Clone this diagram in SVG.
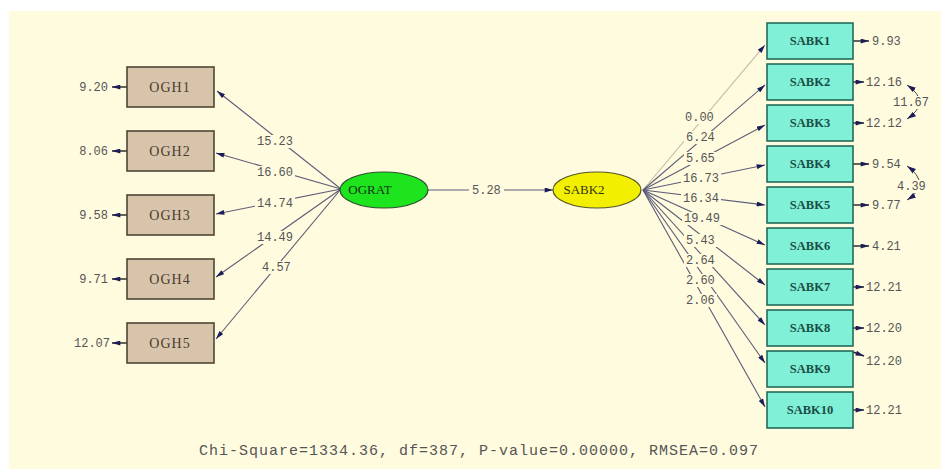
<svg xmlns="http://www.w3.org/2000/svg" width="949" height="476" viewBox="0 0 949 476">
  <style>
    .bg { fill: #fffbdf; }
    .ogh { fill: #d8c4ab; stroke: #4f4535; stroke-width: 1.6; }
    .sabk { fill: #80f0d6; stroke: #236b5c; stroke-width: 1.6; }
    .nlab { font-family: "Liberation Serif", serif; font-size: 13px; text-anchor: middle; }
    .ogh-t { fill: #4a3c30; font-size: 14px; letter-spacing: 1px; }
    .sabk-t { fill: #1b4d46; font-weight: bold; font-size: 12.5px; }
    .num { font-family: "Liberation Mono", monospace; font-size: 12px; fill: #555; }
    .gap { fill: #fffbdf; }
    .path { stroke: #5c5c78; stroke-width: 1.1; fill: none; marker-end: url(#ah); }
    .faint { stroke: #c2b9a8; }
    .err { stroke: #222; stroke-width: 1.4; fill: none; marker-end: url(#ah); }
    .cov { stroke: #444; stroke-width: 1; fill: none; marker-start: url(#ah2); marker-end: url(#ah2); }
  </style>
  <defs>
    <marker id="ah" viewBox="0 0 10 6" refX="10" refY="3" markerWidth="9" markerHeight="5" orient="auto" markerUnits="userSpaceOnUse">
      <path d="M0,0 L10,3 L0,6 z" fill="#1c1c58"/>
    </marker>
    <marker id="ah2" viewBox="0 0 10 6" refX="10" refY="3" markerWidth="9" markerHeight="6" orient="auto-start-reverse" markerUnits="userSpaceOnUse">
      <path d="M0,0 L10,3 L0,6 z" fill="#1c1c58"/>
    </marker>
  </defs>

  <!-- canvas -->
  <rect x="0" y="0" width="949" height="476" fill="#ffffff"/>
  <rect class="bg" x="9" y="11" width="932" height="458"/>

  <!-- connectors -->
  <g id="connectors">
    <!-- OGRAT -> OGH loadings -->
    <line class="path" x1="341" y1="189" x2="217" y2="91"/>
    <line class="path" x1="341" y1="189" x2="216" y2="153"/>
    <line class="path" x1="341" y1="189" x2="216" y2="214"/>
    <line class="path" x1="341" y1="189" x2="216" y2="277"/>
    <line class="path" x1="341" y1="189" x2="216" y2="339"/>
    <!-- structural path -->
    <line class="path" x1="428" y1="190" x2="553" y2="190"/>
    <!-- SABK2 -> SABK loadings -->
    <line class="path faint" x1="643" y1="190" x2="765" y2="45"/>
    <line class="path" x1="643" y1="190" x2="765" y2="85"/>
    <line class="path" x1="643" y1="190" x2="765" y2="125"/>
    <line class="path" x1="643" y1="190" x2="765" y2="165"/>
    <line class="path" x1="643" y1="190" x2="765" y2="205"/>
    <line class="path" x1="643" y1="190" x2="765" y2="245"/>
    <line class="path" x1="643" y1="190" x2="765" y2="285"/>
    <line class="path" x1="643" y1="190" x2="765" y2="325"/>
    <line class="path" x1="643" y1="190" x2="765" y2="363"/>
    <line class="path" x1="643" y1="190" x2="765" y2="407"/>
    <!-- error arrows, left -->
    <line class="err" x1="127" y1="87" x2="112" y2="87"/>
    <line class="err" x1="127" y1="151" x2="112" y2="151"/>
    <line class="err" x1="127" y1="215" x2="112" y2="215"/>
    <line class="err" x1="127" y1="279" x2="112" y2="279"/>
    <line class="err" x1="127" y1="343" x2="112" y2="343"/>
    <!-- error arrows, right -->
    <line class="err" x1="853" y1="41" x2="869" y2="41"/>
    <line class="err" x1="853" y1="82" x2="864" y2="82"/>
    <line class="err" x1="853" y1="123" x2="864" y2="123"/>
    <line class="err" x1="853" y1="164" x2="869" y2="164"/>
    <line class="err" x1="853" y1="205" x2="869" y2="205"/>
    <line class="err" x1="853" y1="246" x2="869" y2="246"/>
    <line class="err" x1="853" y1="287" x2="864" y2="287"/>
    <line class="err" x1="853" y1="328" x2="864" y2="328"/>
    <line class="err" x1="853" y1="352" x2="864" y2="356"/>
    <line class="err" x1="853" y1="410" x2="864" y2="410"/>
    <!-- error covariances -->
    <path class="cov" d="M907,85 Q932,102 907,119"/>
    <path class="cov" d="M907,166 Q932,184 907,200"/>
  </g>

  <!-- path coefficients, each on a small backing so the line breaks around it -->
  <g id="coefficients" class="num">
    <rect class="gap" x="255" y="135" width="40" height="13"/><text x="257" y="145">15.23</text>
    <rect class="gap" x="255" y="166" width="40" height="13"/><text x="257" y="176">16.60</text>
    <rect class="gap" x="255" y="197" width="40" height="13"/><text x="257" y="207">14.74</text>
    <rect class="gap" x="255" y="231" width="40" height="13"/><text x="257" y="241">14.49</text>
    <rect class="gap" x="260" y="261" width="33" height="13"/><text x="262" y="271">4.57</text>
    <rect class="gap" x="469" y="184" width="35" height="13"/><text x="472" y="194">5.28</text>
    <rect class="gap" x="683" y="111" width="33" height="13"/><text x="685" y="121">0.00</text>
    <rect class="gap" x="684" y="131" width="33" height="13"/><text x="686" y="141">6.24</text>
    <rect class="gap" x="684" y="152" width="33" height="13"/><text x="686" y="162">5.65</text>
    <rect class="gap" x="681" y="172" width="40" height="13"/><text x="683" y="182">16.73</text>
    <rect class="gap" x="681" y="192" width="40" height="13"/><text x="683" y="202">16.34</text>
    <rect class="gap" x="682" y="212" width="40" height="13"/><text x="684" y="222">19.49</text>
    <rect class="gap" x="684" y="234" width="33" height="13"/><text x="686" y="244">5.43</text>
    <rect class="gap" x="684" y="254" width="33" height="13"/><text x="686" y="264">2.64</text>
    <rect class="gap" x="684" y="274" width="33" height="13"/><text x="686" y="284">2.60</text>
    <rect class="gap" x="684" y="294" width="33" height="13"/><text x="686" y="304">2.06</text>
    <rect class="gap" x="891" y="96" width="40" height="13"/><text x="893" y="106">11.67</text>
    <rect class="gap" x="895" y="180" width="33" height="13"/><text x="897" y="190">4.39</text>
  </g>

  <!-- error variances -->
  <g id="errors" class="num">
    <text x="108" y="91" text-anchor="end">9.20</text>
    <text x="108" y="155" text-anchor="end">8.06</text>
    <text x="108" y="219" text-anchor="end">9.58</text>
    <text x="108" y="283" text-anchor="end">9.71</text>
    <text x="110" y="347" text-anchor="end">12.07</text>
    <text x="872" y="45">9.93</text>
    <text x="866" y="86">12.16</text>
    <text x="866" y="127">12.12</text>
    <text x="872" y="168">9.54</text>
    <text x="872" y="209">9.77</text>
    <text x="872" y="250">4.21</text>
    <text x="866" y="291">12.21</text>
    <text x="866" y="332">12.20</text>
    <text x="866" y="365">12.20</text>
    <text x="866" y="414">12.21</text>
  </g>

  <!-- observed indicators of OGRAT -->
  <g id="OGH1"><rect class="ogh" x="127" y="67" width="87" height="40"/><text class="nlab ogh-t" x="170" y="92">OGH1</text></g>
  <g id="OGH2"><rect class="ogh" x="127" y="131" width="87" height="40"/><text class="nlab ogh-t" x="170" y="156">OGH2</text></g>
  <g id="OGH3"><rect class="ogh" x="127" y="195" width="87" height="40"/><text class="nlab ogh-t" x="170" y="220">OGH3</text></g>
  <g id="OGH4"><rect class="ogh" x="127" y="259" width="87" height="40"/><text class="nlab ogh-t" x="170" y="284">OGH4</text></g>
  <g id="OGH5"><rect class="ogh" x="127" y="323" width="87" height="40"/><text class="nlab ogh-t" x="170" y="348">OGH5</text></g>

  <!-- latent variables -->
  <g id="OGRAT">
    <ellipse cx="384" cy="190" rx="44" ry="18" fill="#1ee41e" stroke="#2f4f2f" stroke-width="1.2"/>
    <text class="nlab" x="370" y="194" fill="#143014">OGRAT</text>
  </g>
  <g id="SABK2-latent">
    <ellipse cx="597" cy="190" rx="44" ry="18" fill="#f2f000" stroke="#55552a" stroke-width="1.2"/>
    <text class="nlab" x="584" y="194" fill="#333310">SABK2</text>
  </g>

  <!-- observed indicators of SABK2 -->
  <g id="SABK1"><rect class="sabk" x="767" y="23" width="86" height="36"/><text class="nlab sabk-t" x="810" y="45">SABK1</text></g>
  <g id="SABK2"><rect class="sabk" x="767" y="64" width="86" height="36"/><text class="nlab sabk-t" x="810" y="86">SABK2</text></g>
  <g id="SABK3"><rect class="sabk" x="767" y="105" width="86" height="36"/><text class="nlab sabk-t" x="810" y="127">SABK3</text></g>
  <g id="SABK4"><rect class="sabk" x="767" y="146" width="86" height="36"/><text class="nlab sabk-t" x="810" y="168">SABK4</text></g>
  <g id="SABK5"><rect class="sabk" x="767" y="187" width="86" height="36"/><text class="nlab sabk-t" x="810" y="209">SABK5</text></g>
  <g id="SABK6"><rect class="sabk" x="767" y="228" width="86" height="36"/><text class="nlab sabk-t" x="810" y="250">SABK6</text></g>
  <g id="SABK7"><rect class="sabk" x="767" y="269" width="86" height="36"/><text class="nlab sabk-t" x="810" y="291">SABK7</text></g>
  <g id="SABK8"><rect class="sabk" x="767" y="310" width="86" height="36"/><text class="nlab sabk-t" x="810" y="332">SABK8</text></g>
  <g id="SABK9"><rect class="sabk" x="767" y="351" width="86" height="36"/><text class="nlab sabk-t" x="810" y="373">SABK9</text></g>
  <g id="SABK10"><rect class="sabk" x="767" y="392" width="86" height="36"/><text class="nlab sabk-t" x="810" y="414">SABK10</text></g>

  <!-- fit statistics -->
  <text x="199" y="455" font-family="Liberation Mono, monospace" font-size="15" fill="#555" textLength="559" lengthAdjust="spacing">Chi-Square=1334.36, df=387, P-value=0.00000, RMSEA=0.097</text>
</svg>
